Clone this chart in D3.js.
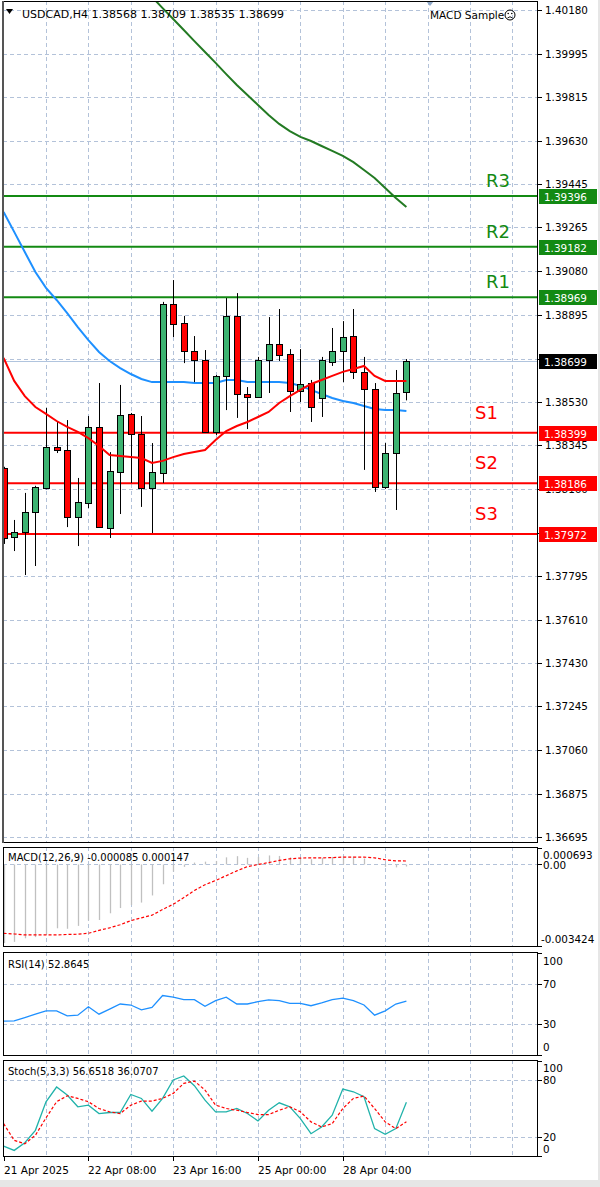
<!DOCTYPE html>
<html><head><meta charset="utf-8">
<script src="https://cdn.jsdelivr.net/npm/d3@7"></script>
<style>
html,body{margin:0;padding:0;background:#fff;}
svg{display:block;}
text{font-family:"DejaVu Sans",sans-serif;}
</style></head><body>
<svg id="chart" width="600" height="1187"></svg>
<script>
// ---------- DATA ----------
const symbolTitle = "USDCAD,H4";
const lastOHLC = ["1.38568","1.38709","1.38535","1.38699"];
const expertName = "MACD Sample";
const opens  = [1.38250,1.37959,1.37980,1.38065,1.38166,1.38338,1.38326,1.38044,1.38103,1.38423,1.37997,1.38233,1.38478,1.38393,1.38166,1.38229,1.38941,1.38861,1.38743,1.38705,1.38402,1.38638,1.38891,1.38562,1.38549,1.38705,1.38773,1.38730,1.38574,1.38608,1.38545,1.38697,1.38743,1.38806,1.38655,1.38583,1.38170,1.38313,1.38568];
const highs  = [1.38255,1.38031,1.38145,1.38175,1.38503,1.38444,1.38452,1.38208,1.38469,1.38608,1.38317,1.38600,1.38482,1.38469,1.38355,1.38950,1.39042,1.38891,1.38806,1.38747,1.38642,1.38966,1.38987,1.38591,1.38718,1.38886,1.38920,1.38751,1.38751,1.38621,1.38718,1.38840,1.38869,1.38920,1.38718,1.38608,1.38355,1.38663,1.38709];
const lows   = [1.37930,1.37900,1.37799,1.37837,1.38160,1.38313,1.38001,1.37921,1.38081,1.37998,1.37955,1.38056,1.38187,1.38086,1.37976,1.38187,1.38802,1.38692,1.38612,1.38398,1.38389,1.38494,1.38461,1.38414,1.38545,1.38566,1.38701,1.38486,1.38528,1.38444,1.38465,1.38680,1.38612,1.38625,1.38242,1.38149,1.38162,1.38073,1.38535];
const closes = [1.37955,1.37980,1.38065,1.38170,1.38338,1.38326,1.38044,1.38107,1.38423,1.38001,1.38237,1.38473,1.38393,1.38166,1.38233,1.38941,1.38857,1.38743,1.38705,1.38402,1.38638,1.38891,1.38562,1.38549,1.38705,1.38773,1.38726,1.38574,1.38604,1.38507,1.38705,1.38743,1.38802,1.38655,1.38583,1.38170,1.38313,1.38566,1.38699];
const maFast = [1.38714,1.38617,1.38553,1.38507,1.38478,1.38448,1.38423,1.38402,1.38376,1.38343,1.38305,1.38301,1.38296,1.38292,1.38271,1.38280,1.38296,1.38309,1.38317,1.38326,1.38368,1.38406,1.38427,1.38444,1.38465,1.38486,1.38524,1.38553,1.38579,1.38604,1.38621,1.38638,1.38655,1.38667,1.38680,1.38638,1.38617,1.38617,1.38617];
const maMid  = [1.39329,1.39245,1.39160,1.39076,1.39009,1.38958,1.38903,1.38844,1.38789,1.38739,1.38701,1.38671,1.38646,1.38625,1.38612,1.38612,1.38612,1.38612,1.38608,1.38608,1.38608,1.38621,1.38621,1.38612,1.38612,1.38612,1.38612,1.38608,1.38596,1.38579,1.38562,1.38545,1.38532,1.38524,1.38511,1.38499,1.38494,1.38494,1.38490];
const maSlow = [null,null,null,null,null,null,null,null,null,null,null,null,null,null,1.40235,1.40188,1.40142,1.40096,1.40049,1.40003,1.39957,1.39910,1.39864,1.39822,1.39780,1.39738,1.39700,1.39670,1.39645,1.39628,1.39607,1.39586,1.39565,1.39539,1.39506,1.39472,1.39430,1.39388,1.39350];
const resNames = ["R3","R2","R1"];
const resValues = [1.39396,1.39182,1.38969];
const supNames = ["S1","S2","S3"];
const supValues = [1.38399,1.38186,1.37972];
const priceTicks = [1.40180,1.39995,1.39815,1.39630,1.39445,1.39265,1.39080,1.38895,1.38710,1.38530,1.38345,1.38160,1.37975,1.37795,1.37610,1.37430,1.37245,1.37060,1.36875,1.36695];
const hiddenTickLabels = [1.38710,1.37975];
const macdMain = [-0.00330,-0.00325,-0.00310,-0.00305,-0.00295,-0.00268,-0.00270,-0.00258,-0.00235,-0.00233,-0.00205,-0.00183,-0.00170,-0.00160,-0.00130,-0.00083,-0.00030,-0.00010,0.00008,0.00012,0.00015,0.00030,0.00035,0.00028,0.00032,0.00038,0.00036,0.00030,0.00028,0.00022,0.00028,0.00032,0.00036,0.00033,0.00025,0.00002,-0.00010,-0.00012,-0.000085];
const macdSignal = [-0.00289,-0.00292,-0.00296,-0.00296,-0.00296,-0.00296,-0.00294,-0.00293,-0.00289,-0.00277,-0.00266,-0.00253,-0.00236,-0.00224,-0.00213,-0.00189,-0.00167,-0.00139,-0.00109,-0.00085,-0.00067,-0.00047,-0.00027,-0.00009,0.00000,0.00008,0.00017,0.00024,0.00027,0.00028,0.00028,0.00029,0.00031,0.00031,0.00031,0.00028,0.00020,0.00015,0.000147];
const macdTicks = ["0.000693","0.00","-0.003424"];
const rsiValues = [33.3,33.5,36.7,40,43.3,43.3,38.3,39,47.3,40,45,50,49,44.3,46.7,58.3,56.7,54.3,54.3,47.7,53.3,56.7,50,50,52.3,54,53.3,50.7,50.7,48.3,51,54.3,55.7,53.3,49,39,43.3,50,52.86];
const rsiTicks = [100,70,30,0];
const stochMain = [10.5,5.9,14,27,57,72.6,64.1,51.8,53.5,44.7,45.8,45.8,64.8,60.6,47.2,60.6,80,84.2,74,58.8,46.5,46.5,50,44.7,36.9,48.2,56,51.8,39.4,23.5,30.6,42.9,70.5,67.6,62.4,28.8,22.8,28.8,56.65];
const stochSignal = [34.1,16.5,12.9,21.8,40.1,57.1,63.4,60.6,57.1,50,46.5,44.7,53.5,57.8,57.8,60.6,65.9,76.5,78.9,69.4,53.5,50,48.2,45.8,43.6,43.6,48.2,51.8,46.5,35.9,30.6,34.1,50,60.6,63.1,50,35.9,28.8,36.07];
const stochTicks = [100,80,20,0];
const xTickBars = [0,8,16,24,32];
const xTickLabels = ["21 Apr 2025","22 Apr 08:00","23 Apr 16:00","25 Apr 00:00","28 Apr 04:00"];

// ---------- LAYOUT ----------
const svg = d3.select("#chart");
const X0 = 3, X1 = 538;
const P = {
  main:  {top: 1,    bottom: 843},
  macd:  {top: 847,  bottom: 947},
  rsi:   {top: 952,  bottom: 1056},
  stoch: {top: 1060, bottom: 1157}
};
const gridColor = "#b3c2d9";
const n = closes.length;
const x = d3.scaleLinear().domain([0, n - 1]).range([3.6, 406.4]);
const y = d3.scaleLinear().domain([1.36695, 1.40180]).range([837, 10]);
const yM = d3.scaleLinear().domain([-0.003424, 0.000693]).range([946, 848]);
const yR = d3.scaleLinear().domain([0, 100]).range([1055, 953]);
const yS = d3.scaleLinear().domain([0, 100]).range([1156, 1061]);
const px = v => Math.round(v) + 0.5;

svg.append("rect").attr("width",600).attr("height",1187).attr("fill","#fff");
svg.append("rect").attr("x",598).attr("y",0).attr("width",2).attr("height",1187).attr("fill","#e6e6e6");
svg.append("rect").attr("x",0).attr("y",1180).attr("width",600).attr("height",7).attr("fill","#e6e6e6");

const defs = svg.append("defs");
Object.entries(P).forEach(([k,p]) => {
  defs.append("clipPath").attr("id","clip-"+k).append("rect")
    .attr("x",X0).attr("y",p.top).attr("width",X1-X0).attr("height",p.bottom-p.top);
});

function panel(key){ return svg.append("g").attr("clip-path","url(#clip-"+key+")"); }

// vertical grid on all panels
const vGridBars = d3.range(4, 49, 4);
Object.keys(P).forEach(k => {
  const g = panel(k);
  g.selectAll("line.vg").data(vGridBars).join("line")
    .attr("x1", d=>px(x(d))).attr("x2", d=>px(x(d)))
    .attr("y1", P[k].top).attr("y2", P[k].bottom)
    .attr("stroke", gridColor).attr("stroke-dasharray","4,3").attr("stroke-width",1);
});

// ---------- MAIN PANEL ----------
const gm = panel("main");
gm.selectAll("line.hg").data(priceTicks).join("line")
  .attr("x1",X0).attr("x2",X1).attr("y1",d=>px(y(d))).attr("y2",d=>px(y(d)))
  .attr("stroke",gridColor).attr("stroke-dasharray","4,3");

gm.append("line").attr("x1",X0).attr("x2",X1)
  .attr("y1",px(y(closes[n-1]))).attr("y2",px(y(closes[n-1])))
  .attr("stroke","#b0c4de").attr("stroke-width",1);

gm.selectAll("line.res").data(resValues).join("line")
  .attr("x1",X0).attr("x2",X1).attr("y1",d=>y(d)).attr("y2",d=>y(d))
  .attr("stroke","#138a13").attr("stroke-width",2);
gm.selectAll("line.sup").data(supValues).join("line")
  .attr("x1",X0).attr("x2",X1).attr("y1",d=>y(d)).attr("y2",d=>y(d))
  .attr("stroke","#ff0000").attr("stroke-width",2);

const lineGen = (ys) => d3.line().defined(d=>d!=null).x((d,i)=>x(i)).y(d=>ys(d));
gm.append("path").datum(maSlow).attr("d", lineGen(y)).attr("fill","none").attr("stroke","#237a23").attr("stroke-width",2);
gm.append("path").datum(maMid).attr("d", lineGen(y)).attr("fill","none").attr("stroke","#1e90ff").attr("stroke-width",2);

const idx = d3.range(n);
gm.selectAll("line.wick").data(idx).join("line")
  .attr("x1",i=>px(x(i))).attr("x2",i=>px(x(i)))
  .attr("y1",i=>y(highs[i])).attr("y2",i=>y(lows[i]))
  .attr("stroke","#000").attr("stroke-width",1);
gm.selectAll("rect.body").data(idx).join("rect")
  .attr("x",i=>Math.round(x(i))-3+0.5)
  .attr("width",6)
  .attr("y",i=>Math.round(y(Math.max(opens[i],closes[i])))+0.5)
  .attr("height",i=>Math.max(1, Math.round(Math.abs(y(opens[i])-y(closes[i])))))
  .attr("fill",i=>closes[i]>=opens[i] ? "#3cb371" : "#ff0000")
  .attr("stroke","#000").attr("stroke-width",1);

gm.append("path").datum(maFast).attr("d", lineGen(y)).attr("fill","none").attr("stroke","#ff0000").attr("stroke-width",2);

svg.selectAll("text.rn").data(resNames).join("text")
  .attr("x",486).attr("y",(d,i)=>y(resValues[i])-9)
  .attr("font-family","Liberation Sans, Arial, sans-serif").attr("font-size",18)
  .attr("fill","#138a13").text(d=>d);
svg.selectAll("text.sn").data(supNames).join("text")
  .attr("x",475).attr("y",(d,i)=>y(supValues[i])-14)
  .attr("font-family","Liberation Sans, Arial, sans-serif").attr("font-size",18)
  .attr("fill","#ff0000").text(d=>d);

// header
svg.append("path").attr("d","M6,9 L13,9 L9.5,14 Z").attr("fill","#000");
svg.append("text").attr("x",22).attr("y",18).attr("font-size",11).attr("fill","#000")
  .text(symbolTitle + "  " + lastOHLC.join(" "));
svg.append("path").attr("d","M426,1 L434,1 L430,6 Z").attr("fill","#8fa8c8");
svg.append("text").attr("x",430).attr("y",19).attr("font-size",10.5).attr("fill","#000").text(expertName);
const sm = svg.append("g").attr("transform","translate(510,15)");
sm.append("circle").attr("r",5).attr("fill","none").attr("stroke","#000").attr("stroke-width",1);
sm.append("circle").attr("cx",-1.8).attr("cy",-1.5).attr("r",0.8).attr("fill","#000");
sm.append("circle").attr("cx",1.8).attr("cy",-1.5).attr("r",0.8).attr("fill","#000");
sm.append("path").attr("d","M-2.5,3 Q0,0.5 2.5,3").attr("fill","none").attr("stroke","#000").attr("stroke-width",0.9);

// price axis
const axG = svg.append("g");
axG.selectAll("line.tk").data(priceTicks).join("line")
  .attr("x1",X1).attr("x2",X1+4).attr("y1",d=>px(y(d))).attr("y2",d=>px(y(d))).attr("stroke","#000");
axG.selectAll("text.tk").data(priceTicks.filter(d=>!hiddenTickLabels.includes(d))).join("text")
  .attr("x",545).attr("y",d=>y(d)+4).attr("font-size",10.4).attr("fill","#000")
  .text(d=>d.toFixed(5));

function priceBox(v, fill){
  const g = svg.append("g");
  g.append("rect").attr("x",539).attr("y",Math.round(y(v))-7).attr("width",58).attr("height",15).attr("fill",fill);
  g.append("text").attr("x",544).attr("y",Math.round(y(v))+4.5).attr("font-size",10.4).attr("fill","#fff").text(v.toFixed(5));
}
resValues.forEach(v=>priceBox(v,"#138a13"));
supValues.forEach(v=>priceBox(v,"#ff0000"));
priceBox(closes[n-1],"#000");

// ---------- MACD ----------
const gmacd = panel("macd");
gmacd.append("line").attr("x1",X0).attr("x2",X1).attr("y1",px(yM(0))).attr("y2",px(yM(0)))
  .attr("stroke",gridColor).attr("stroke-dasharray","4,3");
gmacd.selectAll("line.h").data(idx).join("line")
  .attr("x1",i=>px(x(i))).attr("x2",i=>px(x(i)))
  .attr("y1",yM(0)).attr("y2",i=>yM(macdMain[i]))
  .attr("stroke","#c0c0c0").attr("stroke-width",1.3);
gmacd.append("path").datum(macdSignal).attr("d", lineGen(yM)).attr("fill","none")
  .attr("stroke","#ff0000").attr("stroke-width",1.2).attr("stroke-dasharray","3,2");
svg.append("text").attr("x",8).attr("y",861).attr("font-size",10).attr("fill","#000")
  .text("MACD(12,26,9) " + macdMain[n-1].toFixed(6) + " " + macdSignal[n-1].toFixed(6));
const macdTickVals = [0.000693, 0, -0.003424];
macdTickVals.forEach((v,i)=>{
  const yy = yM(v);
  svg.append("line").attr("x1",X1).attr("x2",X1+4).attr("y1",px(yy)).attr("y2",px(yy)).attr("stroke","#000");
  const ly = Math.min(Math.max(yy, P.macd.top+8), P.macd.bottom-8);
  svg.append("text").attr("x",i==2?541:543).attr("y",ly+(i==1?5:4)).attr("font-size",10.4).attr("fill","#000").text(macdTicks[i]);
});

// ---------- RSI ----------
const grsi = panel("rsi");
[70,30].forEach(v=>grsi.append("line").attr("x1",X0).attr("x2",X1).attr("y1",px(yR(v))).attr("y2",px(yR(v)))
  .attr("stroke",gridColor).attr("stroke-dasharray","4,3"));
grsi.append("path").datum(rsiValues).attr("d", lineGen(yR)).attr("fill","none")
  .attr("stroke","#1e90ff").attr("stroke-width",1.3);
svg.append("text").attr("x",8).attr("y",968).attr("font-size",10).attr("fill","#000")
  .text("RSI(14) " + "52.8645");
rsiTicks.forEach(v=>{
  const yy = yR(v);
  svg.append("line").attr("x1",X1).attr("x2",X1+4).attr("y1",px(yy)).attr("y2",px(yy)).attr("stroke","#000");
  const ly = Math.min(Math.max(yy, P.rsi.top+9), P.rsi.bottom-9);
  svg.append("text").attr("x",543).attr("y",ly+4).attr("font-size",10.4).attr("fill","#000").text(v);
});

// ---------- STOCH ----------
const gst = panel("stoch");
[80,20].forEach(v=>gst.append("line").attr("x1",X0).attr("x2",X1).attr("y1",px(yS(v))).attr("y2",px(yS(v)))
  .attr("stroke",gridColor).attr("stroke-dasharray","4,3"));
gst.append("path").datum(stochMain).attr("d", lineGen(yS)).attr("fill","none")
  .attr("stroke","#20b2aa").attr("stroke-width",1.3);
gst.append("path").datum(stochSignal).attr("d", lineGen(yS)).attr("fill","none")
  .attr("stroke","#ff0000").attr("stroke-width",1.2).attr("stroke-dasharray","3,2");
svg.append("text").attr("x",8).attr("y",1075).attr("font-size",10).attr("fill","#000")
  .text("Stoch(5,3,3) 56.6518 36.0707");
stochTicks.forEach(v=>{
  const yy = yS(v);
  svg.append("line").attr("x1",X1).attr("x2",X1+4).attr("y1",px(yy)).attr("y2",px(yy)).attr("stroke","#000");
  const ly = Math.min(Math.max(yy, P.stoch.top+8), P.stoch.bottom-8);
  svg.append("text").attr("x",543).attr("y",ly+4).attr("font-size",10.4).attr("fill","#000").text(v);
});

// x axis
xTickBars.forEach((b,i)=>{
  svg.append("line").attr("x1",px(x(b))).attr("x2",px(x(b))).attr("y1",P.stoch.bottom).attr("y2",P.stoch.bottom+4).attr("stroke","#000");
  svg.append("text").attr("x",Math.round(x(b))).attr("y",1174).attr("font-size",10.5).attr("fill","#000").text(xTickLabels[i]);
});

// frames
Object.values(P).forEach(p=>{
  svg.append("rect").attr("x",X0+0.5).attr("y",p.top+0.5).attr("width",X1-X0-1).attr("height",p.bottom-p.top-1)
    .attr("fill","none").attr("stroke","#000").attr("stroke-width",1);
});
svg.append("line").attr("x1",3).attr("x2",3).attr("y1",P.main.top).attr("y2",P.main.bottom).attr("stroke","#555").attr("stroke-width",2);
</script>
</body></html>
